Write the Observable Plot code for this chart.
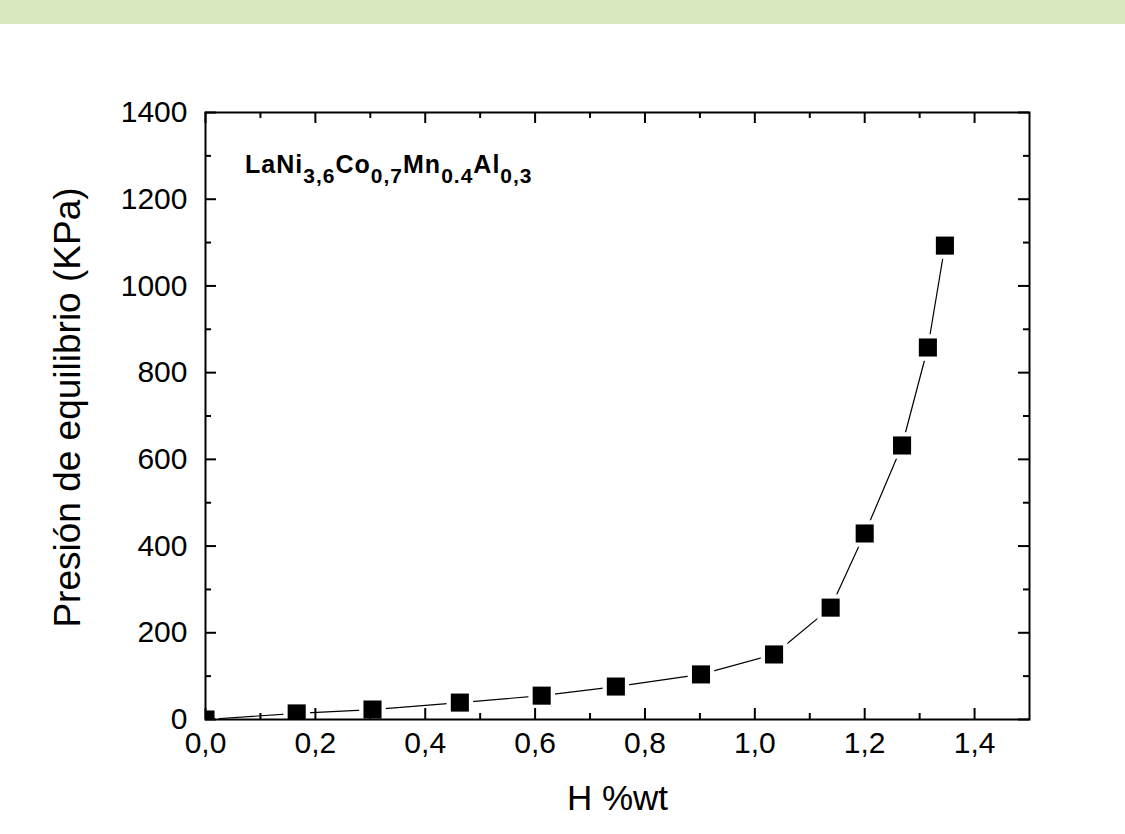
<!DOCTYPE html>
<html>
<head>
<meta charset="utf-8">
<script src="https://cdn.jsdelivr.net/npm/d3@7"></script>
<script src="https://cdn.jsdelivr.net/npm/@observablehq/plot@0.6"></script>
<style>
  html, body { margin: 0; padding: 0; background: white; }
  #band { width: 1125px; height: 24px; background: #dae8c0; }
  #chart svg { display: block; }
</style>
</head>
<body>
<div id="band"></div>
<div id="chart"></div>
<script>
// Data
const hWt = [0.0, 0.166, 0.304, 0.463, 0.612, 0.747, 0.902, 1.035, 1.138, 1.200, 1.268, 1.315, 1.346];
const pressure = [0, 14, 23, 39, 55, 76, 104, 150, 258, 429, 632, 858, 1093];
const xMajor = [0, 0.2, 0.4, 0.6, 0.8, 1.0, 1.2, 1.4];
const xMinor = [0.1, 0.3, 0.5, 0.7, 0.9, 1.1, 1.3];
const yMajor = [0, 200, 400, 600, 800, 1000, 1200, 1400];
const yMinor = [100, 300, 500, 700, 900, 1100, 1300];
const xTitle = "H %wt";
const yTitle = "Presión de equilibrio (KPa)";
const formulaParts = [["LaNi", false], ["3,6", true], ["Co", false], ["0,7", true], ["Mn", false], ["0.4", true], ["Al", false], ["0,3", true]];
const formulaPos = {x: 0.073, y: 1259};

const data = hWt.map((x, i) => ({x, y: pressure[i]}));
const fmtX = d => d.toFixed(1).replace(".", ",");

const W = 1125, H = 810;
const mL = 205, mR = 96, mT = 88, mB = 115;
const frameW = W - mL - mR, frameH = H - mT - mB;
const majorLen = 11, minorLen = 6;
const FONT = "Liberation Sans, Arial, sans-serif";

const formulaMark = (index, scales) => {
  const t = d3.create("svg:text")
    .attr("x", scales.x(formulaPos.x))
    .attr("y", scales.y(formulaPos.y))
    .attr("text-anchor", "start")
    .attr("font-family", FONT)
    .attr("font-weight", "bold")
    .attr("letter-spacing", 1)
    .attr("fill", "black");
  let shifted = false;
  for (const [s, sub] of formulaParts) {
    const ts = t.append("tspan").text(s).attr("font-size", sub ? 21 : 25);
    if (sub && !shifted) { ts.attr("dy", 10); shifted = true; }
    else if (!sub && shifted) { ts.attr("dy", -10); shifted = false; }
  }
  return t.node();
};

const yTitleMark = () => {
  return d3.create("svg:text")
    .attr("transform", `translate(67, ${(mT + (H - mB)) / 2 - 8}) rotate(-90)`)
    .attr("text-anchor", "middle")
    .attr("dy", "0.35em")
    .attr("font-family", FONT)
    .attr("font-size", 37)
    .attr("fill", "black")
    .text(yTitle)
    .node();
};

const chart = Plot.plot({
  width: W, height: H,
  marginLeft: mL, marginRight: mR, marginTop: mT, marginBottom: mB,
  x: {domain: [0, 1.5], axis: null},
  y: {domain: [0, 1400], axis: null},
  style: {fontFamily: FONT, color: "black", background: "white", overflow: "visible"},
  marks: [
    Plot.line(data, {x: "x", y: "y", stroke: "black", strokeWidth: 1.2}),
    Plot.dot(data, {x: "x", y: "y", symbol: "square", r: 15, fill: "white", clip: true}),
    Plot.dot(data, {x: "x", y: "y", symbol: "square", r: 10.2, fill: "black", clip: true}),
    // inward ticks on all four sides
    Plot.tickX(xMajor, {x: d => d, insetTop: frameH - majorLen, stroke: "black", strokeWidth: 2}),
    Plot.tickX(xMinor, {x: d => d, insetTop: frameH - minorLen, stroke: "black", strokeWidth: 2}),
    Plot.tickX(xMajor, {x: d => d, insetBottom: frameH - majorLen, stroke: "black", strokeWidth: 2}),
    Plot.tickX(xMinor, {x: d => d, insetBottom: frameH - minorLen, stroke: "black", strokeWidth: 2}),
    Plot.tickY(yMajor, {y: d => d, insetRight: frameW - majorLen, stroke: "black", strokeWidth: 2}),
    Plot.tickY(yMinor, {y: d => d, insetRight: frameW - minorLen, stroke: "black", strokeWidth: 2}),
    Plot.tickY(yMajor, {y: d => d, insetLeft: frameW - majorLen, stroke: "black", strokeWidth: 2}),
    Plot.tickY(yMinor, {y: d => d, insetLeft: frameW - minorLen, stroke: "black", strokeWidth: 2}),
    Plot.frame({stroke: "black", strokeWidth: 2}),
    // tick labels
    Plot.text(xMajor, {x: d => d, frameAnchor: "bottom", dy: 33, text: fmtX, fontSize: 30, fill: "black"}),
    Plot.text(yMajor, {y: d => d, frameAnchor: "left", dx: -18, textAnchor: "end", text: d => String(d), fontSize: 30, fill: "black"}),
    // axis titles
    Plot.text([xTitle], {frameAnchor: "bottom", dy: 90, text: d => d, fontSize: 35, fill: "black"}),
    yTitleMark,
    formulaMark
  ]
});
document.getElementById("chart").appendChild(chart);
</script>
</body>
</html>
